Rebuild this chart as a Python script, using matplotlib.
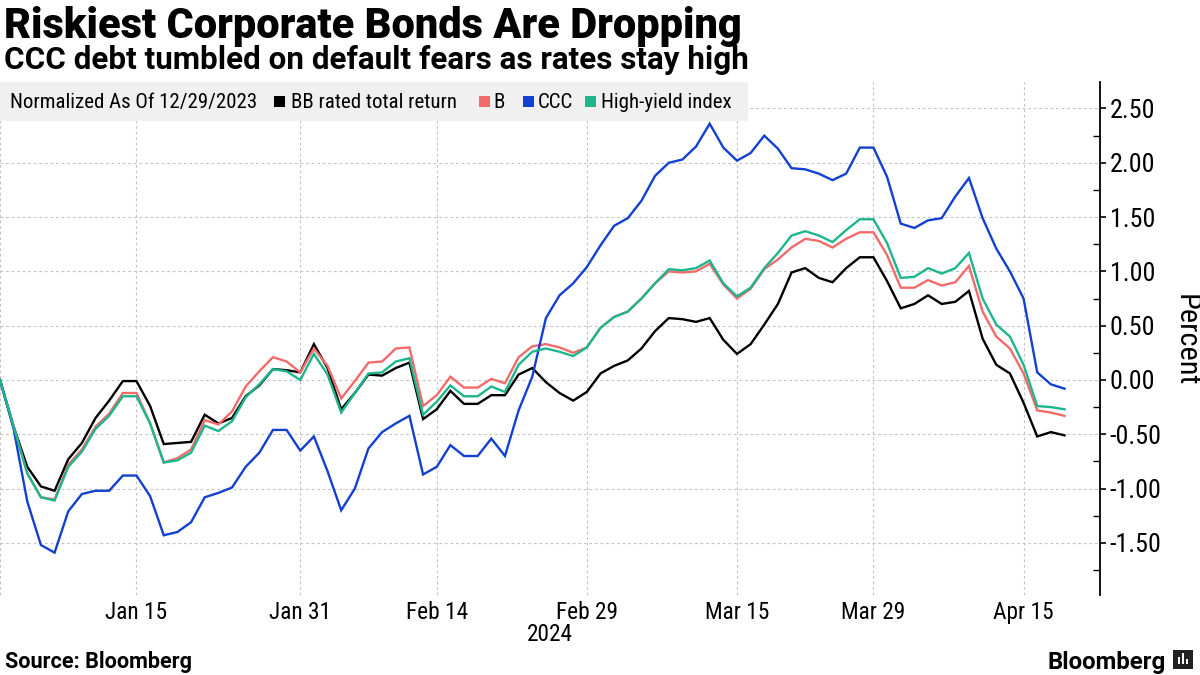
import numpy as np
import pandas as pd
import matplotlib
matplotlib.use("Agg")
import matplotlib.pyplot as plt
from matplotlib import font_manager as fm
from matplotlib.patches import Rectangle
from matplotlib.ticker import FixedLocator, FuncFormatter

# ---------------- data ----------------
dates = pd.bdate_range("2023-12-29", "2024-04-18")
dates = dates[dates != pd.Timestamp("2024-01-01")]

bb = [0.00, -0.43, -0.80, -0.98, -1.02, -0.73, -0.58, -0.35, -0.19, -0.01,
      -0.01, -0.24, -0.59, -0.58, -0.57, -0.32, -0.40, -0.35, -0.15, -0.05,
      0.10, 0.09, 0.07, 0.33, 0.11, -0.27, -0.12, 0.05, 0.04, 0.11,
      0.16, -0.36, -0.27, -0.10, -0.22, -0.22, -0.14, -0.14, 0.05, 0.11,
      -0.02, -0.12, -0.19, -0.11, 0.06, 0.13, 0.18, 0.29, 0.45, 0.57,
      0.56, 0.535, 0.57, 0.37, 0.24, 0.33, 0.51, 0.70, 0.99, 1.03,
      0.94, 0.90, 1.03, 1.13, 1.13, 0.91, 0.66, 0.70, 0.78, 0.70,
      0.72, 0.82, 0.38, 0.14, 0.06, -0.21, -0.52, -0.48, -0.51]
b = [0.00, -0.43, -0.86, -1.08, -1.10, -0.78, -0.64, -0.43, -0.31, -0.12,
     -0.12, -0.40, -0.76, -0.72, -0.64, -0.37, -0.41, -0.29, -0.06, 0.08,
     0.21, 0.17, 0.07, 0.29, 0.13, -0.17, -0.01, 0.16, 0.17, 0.29,
     0.30, -0.24, -0.14, 0.03, -0.07, -0.07, 0.01, -0.03, 0.21, 0.31,
     0.33, 0.30, 0.25, 0.30, 0.48, 0.58, 0.63, 0.75, 0.89, 1.00,
     0.99, 1.00, 1.07, 0.88, 0.75, 0.84, 1.02, 1.11, 1.22, 1.30,
     1.28, 1.22, 1.30, 1.36, 1.36, 1.15, 0.85, 0.85, 0.92, 0.87,
     0.90, 1.05, 0.63, 0.40, 0.29, 0.06, -0.28, -0.30, -0.33]
ccc = [0.00, -0.45, -1.12, -1.52, -1.59, -1.21, -1.05, -1.02, -1.02, -0.88,
       -0.88, -1.07, -1.43, -1.40, -1.31, -1.08, -1.04, -0.99, -0.80, -0.67,
       -0.46, -0.46, -0.65, -0.52, -0.84, -1.20, -1.00, -0.63, -0.48, -0.40,
       -0.33, -0.87, -0.80, -0.60, -0.70, -0.70, -0.54, -0.70, -0.28, 0.03,
       0.57, 0.78, 0.89, 1.04, 1.24, 1.42, 1.49, 1.65, 1.88, 2.00,
       2.03, 2.15, 2.36, 2.14, 2.02, 2.09, 2.25, 2.13, 1.95, 1.94,
       1.90, 1.84, 1.90, 2.14, 2.14, 1.87, 1.44, 1.40, 1.47, 1.49,
       1.69, 1.86, 1.49, 1.21, 1.00, 0.75, 0.07, -0.04, -0.08]
hy = [0.00, -0.43, -0.86, -1.08, -1.11, -0.80, -0.66, -0.45, -0.33, -0.15,
      -0.15, -0.40, -0.76, -0.74, -0.67, -0.42, -0.47, -0.38, -0.16, -0.04,
      0.10, 0.08, 0.00, 0.24, 0.05, -0.30, -0.12, 0.06, 0.07, 0.17,
      0.20, -0.32, -0.20, -0.05, -0.15, -0.15, -0.06, -0.11, 0.14, 0.26,
      0.29, 0.26, 0.22, 0.30, 0.48, 0.58, 0.63, 0.75, 0.89, 1.02,
      1.01, 1.03, 1.10, 0.89, 0.77, 0.85, 1.03, 1.17, 1.33, 1.37,
      1.33, 1.27, 1.38, 1.48, 1.48, 1.26, 0.94, 0.95, 1.03, 0.98,
      1.03, 1.17, 0.75, 0.51, 0.40, 0.14, -0.24, -0.25, -0.27]

series_names = ["BB rated total return", "B", "CCC", "High-yield index"]
series_colors = ["#000000", "#f26b6b", "#1240d0", "#1db68c"]

tick_dates = ["2024-01-15", "2024-01-31", "2024-02-14", "2024-02-29",
              "2024-03-15", "2024-03-29", "2024-04-15"]
y_major = [-1.5, -1.0, -0.5, 0.0, 0.5, 1.0, 1.5, 2.0, 2.5]
y_minor = [-1.75, -1.25, -0.75, -0.25, 0.25, 0.75, 1.25, 1.75, 2.25]

title = "Riskiest Corporate Bonds Are Dropping"
subtitle = "CCC debt tumbled on default fears as rates stay high"
legend_title = "Normalized As Of 12/29/2023"

# ---------------- fonts ----------------
names = {f.name for f in fm.fontManager.ttflist}


def pick(cands, default="DejaVu Sans"):
    for c in cands:
        if c in names:
            return c
    return default


FONT = pick(["Roboto Condensed", "Liberation Sans Narrow", "DejaVu Sans Condensed",
             "Open Sans Condensed", "Noto Sans"])
HEAD = pick(["Roboto", "Open Sans", "Noto Sans", "Lato"])
plt.rcParams["font.family"] = [FONT, "DejaVu Sans"]

W, H = 1200, 675
fig = plt.figure(figsize=(12, 6.75), dpi=100)
fig.patch.set_facecolor("white")
renderer = fig.canvas.get_renderer()


def fx(px):
    return px / W


def fy(py):
    return 1 - py / H


def fit(s, target, weight="normal", family=None, base=12.0):
    fam = [family, "DejaVu Sans"] if family else [FONT, "DejaVu Sans"]
    t = fig.text(0, 0, s, fontsize=base, fontweight=weight, family=fam)
    w = t.get_window_extent(renderer=renderer).width
    t.remove()
    return base * target / w


# ---------------- axes ----------------
ax = fig.add_axes([0, fy(595), fx(1100), (595 - 82) / H])
x = np.arange(len(dates))
for vals, col in zip([bb, b, ccc, hy], series_colors):
    ax.plot(x, vals, color=col, lw=1.7, solid_joinstyle="miter", zorder=3)

ax.set_xlim(0, 80.6)
ax.set_ylim(-1.98, 2.744)
for s in ["top", "left", "bottom"]:
    ax.spines[s].set_visible(False)
ax.spines["right"].set_linewidth(1.3)
ax.spines["right"].set_color("black")

xt = [dates.get_loc(pd.Timestamp(d)) for d in tick_dates]
ax.set_xticks(xt)
ax.set_xticklabels([f"{pd.Timestamp(d):%b} {pd.Timestamp(d).day}" for d in tick_dates])

ax.yaxis.tick_right()
ax.yaxis.set_major_locator(FixedLocator(y_major))
ax.yaxis.set_minor_locator(FixedLocator(y_minor))
ax.yaxis.set_major_formatter(FuncFormatter(lambda v, p: f"{v:.2f}"))

xs = fit("Jan 15", 62)
ys = fit("2.50", 45)
ax.tick_params(axis="x", length=0, pad=4, labelsize=xs, colors="black")
ax.tick_params(axis="y", which="major", direction="out", length=4, width=1.2,
               pad=3, labelsize=ys)
ax.tick_params(axis="y", which="minor", direction="in", length=5, width=1.0)

grid_kw = dict(color="#c4c4c4", lw=0.8, ls=(0, (2.5, 2.5)))
ax.grid(axis="both", which="major", **grid_kw)
ax.axvline(0, clip_on=False, zorder=1, **grid_kw)
ax.set_axisbelow(True)

# year label
fig.text(fx(550), fy(641), "2024", fontsize=xs, ha="center", va="baseline")
# y label
fig.text(fx(1186), fy(340), "Percent", fontsize=fit("Percent", 92), rotation=270,
         ha="center", va="center")

# ---------------- titles ----------------
head_fam = [HEAD, "DejaVu Sans"]
fig.text(fx(4), fy(38), title, fontsize=fit(title, 736, "heavy", HEAD), fontweight="heavy",
         family=head_fam, va="baseline", ha="left")
fig.text(fx(4), fy(69), subtitle, fontsize=fit(subtitle, 742, "bold", HEAD),
         fontweight="bold", family=head_fam, va="baseline", ha="left")

# ---------------- legend ----------------
fig.add_artist(Rectangle((0, fy(121)), fx(748), 39 / H, transform=fig.transFigure,
                         facecolor="#f0f0f0", edgecolor="none", zorder=5))
ls = fit(legend_title, 246)
fig.text(fx(10), fy(108), legend_title, fontsize=ls, va="baseline", zorder=6)
sq_x = [274, 479, 523, 585]
tx_x = [291, 493, 538, 601]
for name, col, sx, tx in zip(series_names, series_colors, sq_x, tx_x):
    fig.add_artist(Rectangle((fx(sx), fy(107)), fx(11), 11 / H, transform=fig.transFigure,
                             facecolor=col, edgecolor="none", zorder=6))
    fig.text(fx(tx), fy(108), name, fontsize=ls, va="baseline", zorder=6)

# ---------------- footer ----------------
src = "Source: Bloomberg"
fig.text(fx(5), fy(668), src, fontsize=fit(src, 186, "bold", HEAD), fontweight="bold",
         family=head_fam, va="baseline")
fig.text(fx(1166), fy(669), "Bloomberg", fontsize=fit("Bloomberg", 118, "bold", HEAD),
         fontweight="bold", family=head_fam, va="baseline", ha="right")
# small logo icon
fig.add_artist(Rectangle((fx(1173), fy(669)), fx(20), 19 / H, transform=fig.transFigure,
                         facecolor="#222222", edgecolor="none", zorder=6))
for bx, bh in zip([1177.5, 1181.5, 1185.5], [7, 11, 5]):
    fig.add_artist(Rectangle((fx(bx), fy(664)), fx(2), bh / H, transform=fig.transFigure,
                             facecolor="white", edgecolor="none", zorder=7))

fig.savefig("out.png", dpi=100, facecolor="white")
